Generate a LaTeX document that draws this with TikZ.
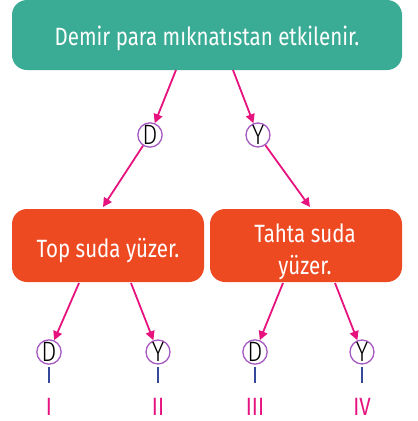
\documentclass[tikz,border=0pt]{standalone}
\usepackage{fontspec}
\setmainfont{Fira Sans}
\newfontfamily\nar[FakeStretch=0.82]{Fira Sans}
\newfontfamily\narl[FakeStretch=0.85]{Fira Sans Light}
\usetikzlibrary{arrows.meta}
\definecolor{teal1}{HTML}{3AAB94}
\definecolor{orange1}{HTML}{EE4A22}
\definecolor{mag}{HTML}{E6137F}
\definecolor{purp}{HTML}{A65BC2}
\definecolor{blu}{HTML}{34489C}
\begin{document}
\begin{tikzpicture}[x=1pt,y=-1pt,
  box/.style={inner sep=0pt, text=white, align=center, font=\nar\fontsize{25}{33}\selectfont},
  lt/.style={circle, draw=purp, line width=1.3pt, minimum size=24pt, inner sep=0pt, font=\narl\fontsize{28}{28}\selectfont},
  arr/.style={draw=mag, line width=1.8pt, -{Triangle[length=9pt,width=9pt]}},
  tick/.style={draw=blu, line width=1.8pt},
  num/.style={text=mag, inner sep=0pt, anchor=base, font=\nar\fontsize{25}{25}\selectfont}]
\useasboundingbox (0,0) rectangle (418,421);
\fill[teal1, rounded corners=15pt] (12,0) rectangle (402,70);
\node[box, anchor=base] (top) at (207,45) {Demir para mıknatıstan etkilenir.};
\coordinate (topL) at (176,70);
\coordinate (topR) at (233,70);
\node[lt] (d0) at (150,135) {D};
\node[lt] (y0) at (258,135) {Y};
\draw[arr] (topL) -- (d0);
\draw[arr] (topR) -- (y0);
\fill[orange1, rounded corners=15pt] (12,209) rectangle (204,282);
\fill[orange1, rounded corners=15pt] (210,209) rectangle (402,282);
\node[box, anchor=base] (lb) at (108,257) {Top suda yüzer.};
\node[box, anchor=base] (rb1) at (305,242) {Tahta suda};
\node[box, anchor=base] (rb2) at (305,274) {yüzer.};
\coordinate (lbin) at (103,207);
\coordinate (rbin) at (310,207);
\draw[arr] (d0) -- (lbin);
\draw[arr] (y0) -- (rbin);
\coordinate (l1) at (79,283);
\coordinate (l2) at (131,283);
\coordinate (r1) at (283,283);
\coordinate (r2) at (335,283);
\node[lt] (a) at (49,352) {D};
\node[lt] (b) at (158,352) {Y};
\node[lt] (c) at (255,352) {D};
\node[lt] (d) at (362,352) {Y};
\draw[arr] (l1) -- (a);
\draw[arr] (l2) -- (b);
\draw[arr] (r1) -- (c);
\draw[arr] (r2) -- (d);
\node[num] (n1) at (49,415) {I};
\node[num] (n2) at (158,415) {II};
\node[num] (n3) at (255,415) {III};
\node[num] (n4) at (362,415) {IV};
\foreach \p/\q in {a/n1,b/n2,c/n3,d/n4}
  \draw[tick] ([yshift=-2pt]\p.south) -- ([yshift=-383pt]\p.south |- 0,0);
\end{tikzpicture}
\end{document}
